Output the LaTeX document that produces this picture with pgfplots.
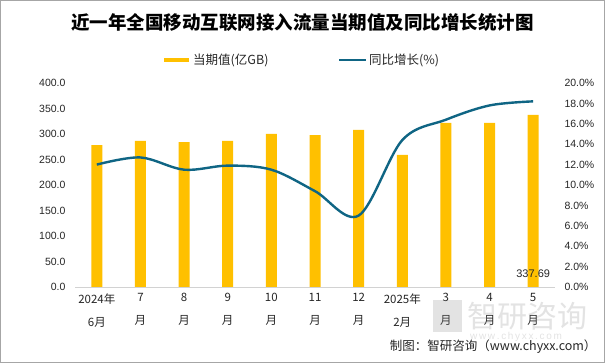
\documentclass[border=0pt]{standalone}
\usepackage{pgfplots}
\pgfplotsset{compat=1.18}
\usepackage{fontspec}
\setmainfont{Liberation Sans}
\newfontfamily\cjk{Noto Sans CJK SC}
\definecolor{baryellow}{HTML}{FFC000}
\definecolor{lineblue}{HTML}{0F6584}
\definecolor{txt}{HTML}{262626}
\begin{document}
\begin{tikzpicture}[x=1pt,y=1pt]
\useasboundingbox (0,0) rectangle (605,363);
\fill[white] (0,0) rectangle (605,363);
\begin{axis}[
  at={(75pt,76pt)}, anchor=south west, scale only axis,
  width=480pt, height=204pt,
  xmin=-0.5, xmax=10.5, ymin=0, ymax=400,
  ytick={0,50,...,400},
  xtick={0,...,10},
  xticklabels={{2024年\\6月},{7\\月},{8\\月},{9\\月},{10\\月},{11\\月},{12\\月},{2025年\\2月},{3\\月},{4\\月},{5\\月}},
  x tick label style={align=center, font=\cjk\fontsize{11.5}{23}\selectfont, text=txt, yshift=-3pt},
  yticklabel={\pgfmathprintnumber[fixed,fixed zerofill,precision=1,assume math mode=true]{\tick}},
  y tick label style={font=\fontsize{10.5}{12}\selectfont, text=txt, xshift=-6pt},
  axis x line*=bottom, axis y line*=left,
  x axis line style={draw=gray!35, line width=0.8pt, -},
  y axis line style={draw=none},
  major tick length=0pt,
  clip=false,
]
\addplot[ybar, bar width=11pt, fill=baryellow, draw=none] coordinates {
(0,278.4) (1,286.3) (2,284.3) (3,286.3) (4,300.0) (5,298.0) (6,308.0) (7,259.0) (8,321.6) (9,321.6) (10,337.69)};
\node[font=\fontsize{11}{12}\selectfont, text=txt] at (axis cs:10,27) {337.69};
\end{axis}
\begin{axis}[
  at={(75pt,76pt)}, anchor=south west, scale only axis,
  width=480pt, height=204pt,
  xmin=-0.5, xmax=10.5, ymin=0, ymax=20,
  ytick={0,2,...,20},
  axis y line*=right, axis x line=none,
  y axis line style={draw=none},
  yticklabel={\pgfmathprintnumber[fixed,fixed zerofill,precision=1,assume math mode=true]{\tick}\%},
  y tick label style={font=\fontsize{10.5}{12}\selectfont, text=txt, xshift=6pt},
  major tick length=0pt,
]
\addplot[lineblue, line width=2.4pt, smooth, tension=0.55] coordinates {
(0,12.0) (1,12.7) (2,11.5) (3,11.9) (4,11.5) (5,9.4) (6,7.0) (7,14.4) (8,16.4) (9,17.8) (10,18.2)};
\end{axis}
% title
\node[font=\cjk\bfseries\fontsize{18.5}{22}\selectfont, text=black] at (302.5,341) {近一年全国移动互联网接入流量当期值及同比增长统计图};
% legend
\draw[baryellow, line width=4.5pt] (164,303) -- (189,303);
\node[anchor=west, font=\cjk\fontsize{12.5}{14}\selectfont, text=txt, inner sep=1pt] at (192,303) {当期值(亿GB)};
\draw[lineblue, line width=2.6pt] (339,303) -- (366,303);
\node[anchor=west, font=\cjk\fontsize{12.5}{14}\selectfont, text=txt, inner sep=1pt] at (368,303) {同比增长(\%)};
% watermark
\node[font=\cjk\fontsize{30}{32}\selectfont, text=gray, opacity=0.22, anchor=west, inner sep=0pt] at (467,47) {智研咨询};
\node[font=\fontsize{10}{12}\selectfont, text=gray, opacity=0.22, anchor=west, inner sep=0pt] at (470,26) {w\,w\,w\,.\,c\,h\,y\,x\,x\,.\,c\,o\,m};
\fill[gray, opacity=0.22] (433,31) rectangle (462,63);
% source
\node[anchor=east, font=\cjk\fontsize{12.5}{14}\selectfont, text=txt] at (600,16) {制图：智研咨询（www.chyxx.com）};
\draw[gray!70, line width=1pt] (0.5,0.5) rectangle (604.5,362.5);
\end{tikzpicture}
\end{document}
